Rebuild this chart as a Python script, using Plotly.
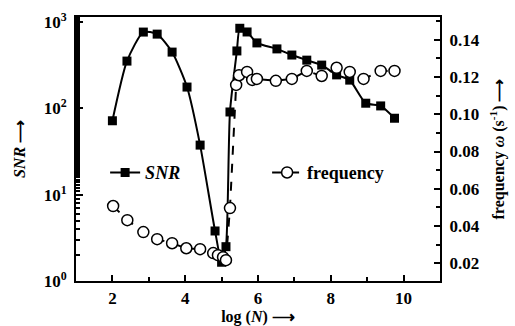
import plotly.graph_objects as go

# SNR (left log axis)
snr_x = [2.0, 2.4, 2.85, 3.23, 3.64, 4.05, 4.41, 4.82, 5.0, 5.12, 5.23, 5.42, 5.5, 5.7,
         5.97, 6.52, 6.93, 7.34, 7.75, 8.16, 8.52, 8.96, 9.37, 9.75]
snr_y = [72, 354, 768, 727, 450, 177, 37.6, 3.8, 1.65, 2.5, 91, 464, 850, 770,
         575, 490, 416, 363, 318, 245, 213, 115, 107, 77]

# frequency (right linear axis)
freq_x = [2.02, 2.41, 2.85, 3.23, 3.64, 4.03, 4.41, 4.77, 4.9, 5.04, 5.12, 5.23,
          5.4, 5.48, 5.7, 5.84, 5.97, 6.49, 6.93, 7.34, 7.75, 8.16, 8.52, 8.9, 9.37, 9.75]
freq_y = [0.0507, 0.0431, 0.0367, 0.0329, 0.0307, 0.028, 0.0275, 0.0254, 0.0243, 0.0232, 0.0216, 0.0496,
          0.1158, 0.121, 0.1228, 0.1185, 0.119, 0.118, 0.119, 0.1233, 0.1206, 0.125, 0.1228, 0.119, 0.1233, 0.1233]

x_ticks = [2, 4, 6, 8, 10]
left_ticks = [1, 10, 100, 1000]
left_ticktext = ["10<sup>0</sup>", "10<sup>1</sup>", "10<sup>2</sup>", "10<sup>3</sup>"]
right_ticks = [0.02, 0.04, 0.06, 0.08, 0.10, 0.12, 0.14]
right_ticktext = ["0.02", "0.04", "0.06", "0.08", "0.10", "0.12", "0.14"]

FONT = "Liberation Serif"
TICKFONT = dict(family=FONT, size=17, color="black", weight="bold")
TITLEFONT = dict(family=FONT, size=16, color="black", weight="bold")
LEGFONT = dict(family=FONT, size=18, color="black", weight="bold")

fig = go.Figure()
fig.add_trace(go.Scatter(
    x=snr_x, y=snr_y, name="<i>SNR</i>", mode="lines+markers",
    line=dict(color="black", width=2, shape="spline", smoothing=0.6),
    marker=dict(symbol="square", size=9, color="black"),
    yaxis="y", legend="legend", showlegend=True))
fig.add_trace(go.Scatter(
    x=freq_x, y=freq_y, name="frequency", mode="lines+markers",
    line=dict(color="black", width=2, dash="dash"),
    marker=dict(symbol="circle", size=11, color="white", line=dict(color="black", width=1.5)),
    yaxis="y2", legend="legend2", showlegend=True))

axis_common = dict(showline=True, linecolor="black", linewidth=2, ticks="inside",
                   tickcolor="black", tickwidth=1.5, showgrid=False, zeroline=False,
                   tickfont=TICKFONT, automargin=False)

fig.update_layout(
    width=515, height=326,
    margin=dict(l=76, r=75, t=17, b=45, autoexpand=False),
    plot_bgcolor="white", paper_bgcolor="white",
    font=dict(family=FONT, color="black"),
    showlegend=True,
    xaxis=dict(range=[1, 11], tickvals=x_ticks, ticklen=6, mirror=True, ticklabelstandoff=1,
               minor=dict(dtick=1, ticks="inside", ticklen=4, tickcolor="black"),
               title=dict(text="log (<i>N</i>) ⟶", font=TITLEFONT, standoff=8),
               **axis_common),
    yaxis=dict(type="log", range=[0, 3.06], tickvals=left_ticks, ticktext=left_ticktext, ticklen=7,
               ticklabelstandoff=4,
               minor=dict(ticks="inside", ticklen=4, tickcolor="black", showgrid=False),
               title=dict(text="<i>SNR</i> ⟶", font=TITLEFONT, standoff=14),
               **axis_common),
    yaxis2=dict(overlaying="y", side="right", range=[0.0104, 0.1523], tickvals=right_ticks,
                ticktext=right_ticktext, ticklen=6, ticklabelstandoff=4,
                minor=dict(dtick=0.01, ticks="inside", ticklen=4, tickcolor="black"),
                title=dict(text="frequency <i>ω</i> (s<sup>-1</sup>) ⟶", font=TITLEFONT, standoff=14),
                **axis_common),
    legend=dict(x=0.08, y=0.41, xanchor="left", yanchor="middle",
                bgcolor="rgba(0,0,0,0)", font=LEGFONT),
    legend2=dict(x=0.525, y=0.41, xanchor="left", yanchor="middle",
                 bgcolor="rgba(0,0,0,0)", font=LEGFONT),
)

fig.write_html("out.html")
